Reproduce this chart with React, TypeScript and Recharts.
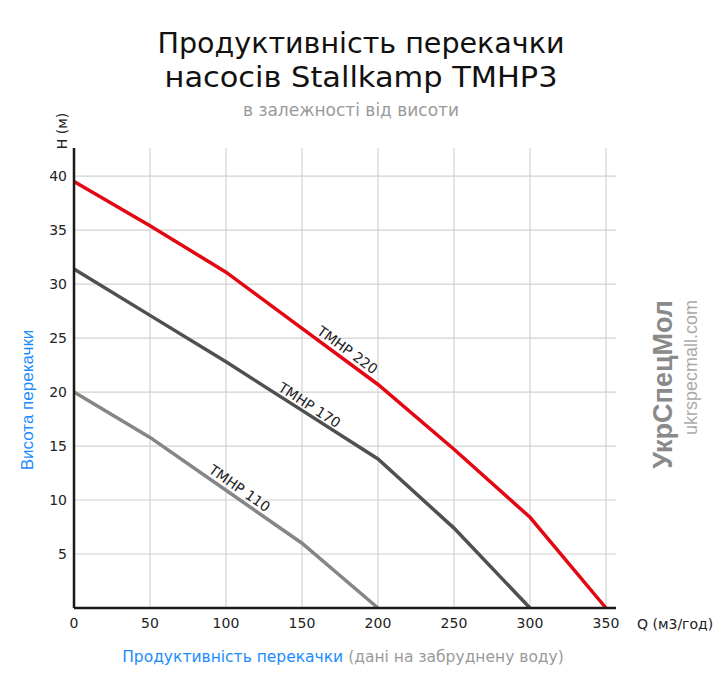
import { LineChart, Line, XAxis, YAxis, CartesianGrid, ReferenceDot } from "recharts";

// Q (м3/год) points
const qValues = [0, 50, 100, 150, 200, 250, 300, 350];
// H (м) per pump
const tmhp220 = [39.5, 35.4, 31.1, 25.9, 20.7, 14.7, 8.4, 0];
const tmhp170 = [31.4, 27.1, 22.8, 18.3, 13.8, 7.4, 0];
const tmhp110 = [20.0, 15.8, 10.9, 6.0, 0];

const xTicks = [0, 50, 100, 150, 200, 250, 300, 350];
const yTicks = [0, 5, 10, 15, 20, 25, 30, 35, 40];

// where the curve names sit (data coords) and their tilt
const curveNames = [
  { text: "ТМНР 220", q: 180, h: 23.9, angle: 36 },
  { text: "ТМНР 170", q: 155, h: 18.8, angle: 33 },
  { text: "ТМНР 110", q: 109, h: 11.1, angle: 35 },
];

const data = qValues.map((q, i) => ({
  q,
  h220: tmhp220[i],
  h170: tmhp170[i],
  h110: tmhp110[i],
}));

const FONT = "'DejaVu Sans', sans-serif";
const ARIAL = "'Liberation Sans', Arial, sans-serif";
const BLUE = "#1a8cff";

export default function App() {
  return (
    <div style={{ position: "absolute", left: 0, top: 0, width: 722, height: 680, background: "#fff", fontFamily: FONT }}>
      <svg width={722} height={680} style={{ position: "absolute", left: 0, top: 0 }}>
        <text x={361} y={53} textAnchor="middle" fontSize={28} fill="#111" fontFamily={FONT} textLength={407} lengthAdjust="spacingAndGlyphs">
          Продуктивність перекачки
        </text>
        <text x={361} y={87} textAnchor="middle" fontSize={28} fill="#111" fontFamily={FONT} textLength={393} lengthAdjust="spacingAndGlyphs">
          насосів Stallkamp ТМНР3
        </text>
        <text x={351} y={116} textAnchor="middle" fontSize={17} fill="#9a9a9a" fontFamily={FONT}>
          в залежності від висоти
        </text>
        <text x={343} y={662} textAnchor="middle" fontSize={15.5} fontFamily={FONT}>
          <tspan fill={BLUE}>Продуктивність перекачки</tspan>
          <tspan fill="#9a9a9a"> (дані на забруднену воду)</tspan>
        </text>
        <text transform="translate(33,400) rotate(-90)" textAnchor="middle" fontSize={17} fill={BLUE} fontFamily={ARIAL}>
          Висота перекачки
        </text>
        <text transform="translate(67,131) rotate(-90)" textAnchor="middle" fontSize={14} fill="#222" fontFamily={FONT}>
          H (м)
        </text>
        <text x={637} y={629} textAnchor="start" fontSize={14} fill="#222" fontFamily={FONT}>
          Q (м3/год)
        </text>
        <text transform="translate(672,300) rotate(-90)" textAnchor="end" fontSize={27} fontWeight="bold" fill="#8a8a8a" fontFamily={ARIAL}>
          УкрСпецМол
        </text>
        <text transform="translate(697,300) rotate(-90)" textAnchor="end" fontSize={18} fill="#aaaaaa" fontFamily={ARIAL}>
          ukrspecmall.com
        </text>
      </svg>
      <div style={{ position: "absolute", left: 0, top: 0 }}>
        <LineChart width={722} height={680} data={data} margin={{ top: 148, right: 106, bottom: 42, left: 24 }}>
          <CartesianGrid stroke="#d2d2d2" strokeWidth={1.2} horizontalValues={yTicks} verticalValues={xTicks} />
          <XAxis
            dataKey="q"
            type="number"
            domain={[0, 356.6]}
            ticks={xTicks}
            height={30}
            tickLine={false}
            tickSize={0}
            tickMargin={10}
            axisLine={{ stroke: "#1a1a1a", strokeWidth: 2.5 }}
            tick={{ fill: "#222", fontSize: 14, fontFamily: FONT }}
          />
          <YAxis
            type="number"
            domain={[0, 42.6]}
            ticks={yTicks}
            width={50}
            tickLine={false}
            tickSize={0}
            tickMargin={7}
            axisLine={{ stroke: "#1a1a1a", strokeWidth: 2.5 }}
            tick={{ fill: "#222", fontSize: 14, fontFamily: FONT }}
            tickFormatter={(v: number) => (v === 0 ? "" : String(v))}
          />
          <Line dataKey="h110" stroke="#868686" strokeWidth={3.5} dot={false} isAnimationActive={false} connectNulls={false} />
          <Line dataKey="h170" stroke="#505050" strokeWidth={3.5} dot={false} isAnimationActive={false} connectNulls={false} />
          <Line dataKey="h220" stroke="#e30613" strokeWidth={3.5} dot={false} isAnimationActive={false} connectNulls={false} />
          {curveNames.map((c) => (
            <ReferenceDot
              key={c.text}
              x={c.q}
              y={c.h}
              r={0}
              shape={(p: any) => (
                <text
                  transform={`translate(${p.cx},${p.cy}) rotate(${c.angle})`}
                  textAnchor="middle"
                  dominantBaseline="central"
                  fontSize={14}
                  fill="#222"
                  fontFamily={FONT}
                >
                  {c.text}
                </text>
              )}
            />
          ))}
        </LineChart>
      </div>
    </div>
  );
}
